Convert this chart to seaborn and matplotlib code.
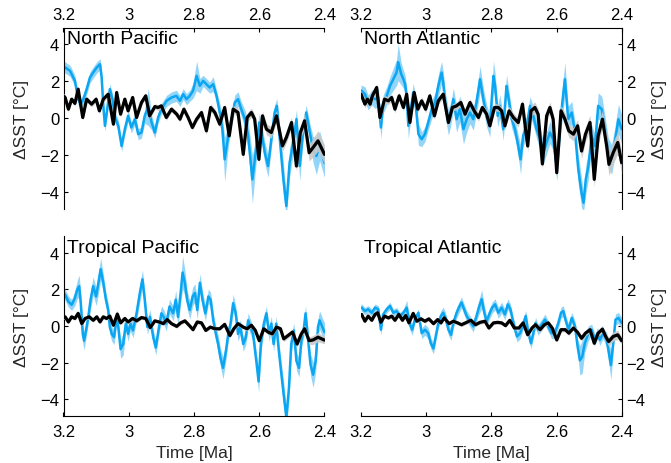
import matplotlib
matplotlib.use("Agg")
import matplotlib.pyplot as plt
import seaborn as sns
import pandas as pd
import numpy as np

# ---------------------------------------------------------------------------
# Data: (age [Ma], SST anomaly [degC], half-width of uncertainty band)
# blue = proxy reconstruction, black = model estimate
# ---------------------------------------------------------------------------
np_blue = [
    (3.200, 2.80, 0.3), (3.195, 2.74, 0.3), (3.180, 2.56, 0.3), (3.165, 2.02, 0.3),
    (3.155, 1.03, 0.3), (3.147, 0.76, 0.3), (3.139, 1.03, 0.3), (3.129, 1.57, 0.3),
    (3.119, 2.20, 0.3), (3.109, 2.47, 0.3), (3.098, 2.74, 0.3), (3.088, 2.92, 0.3),
    (3.083, 2.20, 0.3), (3.078, 0.67, 0.3), (3.073, -0.41, 0.3), (3.066, 0.49, 0.3),
    (3.058, 1.57, 0.3), (3.050, 1.03, 0.3), (3.042, 0.04, 0.3), (3.032, -0.41, 0.3),
    (3.022, -1.50, 0.3), (3.012, -0.59, 0.3), (3.002, 0.13, 0.3), (2.992, -0.50, 0.3),
    (2.981, -0.05, 0.3), (2.971, -0.86, 0.3), (2.961, -0.77, 0.3), (2.951, 0.13, 0.4),
    (2.940, 0.60, 1.0), (2.930, -0.23, 0.4), (2.920, -0.77, 0.3), (2.910, 0.04, 0.3),
    (2.900, 0.49, 0.3), (2.884, 0.94, 0.3), (2.869, 1.12, 0.3), (2.854, 1.21, 0.3),
    (2.843, 0.94, 0.3), (2.833, 1.30, 0.3), (2.823, 1.03, 0.3), (2.813, 1.21, 0.3),
    (2.803, 1.48, 0.4), (2.792, 2.29, 0.8), (2.782, 1.75, 0.4), (2.772, 2.02, 0.3),
    (2.762, 1.84, 0.3), (2.752, 1.66, 0.3), (2.741, 1.84, 0.4), (2.731, 1.21, 0.3),
    (2.721, 0.31, 0.5), (2.713, -0.59, 0.7), (2.706, -2.22, 1.2), (2.695, -0.95, 0.6),
    (2.685, -0.05, 0.4), (2.675, 0.85, 0.4), (2.665, 1.03, 0.4), (2.655, 0.49, 0.4),
    (2.644, -0.05, 0.5), (2.634, -0.95, 0.8), (2.621, -3.30, 1.3), (2.611, -1.86, 0.8),
    (2.600, -0.23, 0.5), (2.593, -0.77, 0.5), (2.583, -1.86, 0.6), (2.573, -2.58, 0.6),
    (2.563, -1.13, 0.5), (2.553, 0.31, 0.4), (2.546, 0.67, 0.4), (2.537, -1.13, 0.6),
    (2.527, -3.12, 0.9), (2.517, -4.74, 0.6), (2.507, -2.40, 0.8), (2.496, -1.31, 0.6),
    (2.486, -0.05, 0.5), (2.476, -2.58, 0.8), (2.466, -0.77, 0.5), (2.456, 0.31, 0.4),
    (2.445, -0.77, 0.5), (2.435, -1.68, 0.7), (2.425, -2.04, 1.0), (2.415, -1.50, 0.8),
    (2.400, -2.40, 0.8),
]
np_black = [
    (3.200, 1.20, 0.15), (3.195, 1.12, 0.15), (3.185, 0.49, 0.15), (3.175, 1.03, 0.15),
    (3.165, 0.80, 0.15), (3.155, 1.57, 0.15), (3.141, 0.04, 0.15), (3.129, 1.03, 0.15),
    (3.114, 0.76, 0.15), (3.100, 1.03, 0.15), (3.090, 0.40, 0.15), (3.078, 1.03, 0.15),
    (3.063, 1.30, 0.15), (3.047, -0.32, 0.15), (3.037, 1.39, 0.15), (3.025, 0.22, 0.15),
    (3.012, 1.03, 0.15), (3.002, 0.40, 0.15), (2.988, 1.12, 0.15), (2.976, 0.04, 0.15),
    (2.961, 0.85, 0.15), (2.948, 1.21, 0.15), (2.936, 0.13, 0.15), (2.920, 0.63, 0.15),
    (2.910, 0.58, 0.15), (2.900, 0.67, 0.15), (2.885, 0.04, 0.15), (2.869, 0.49, 0.15),
    (2.853, 0.22, 0.15), (2.843, -0.05, 0.15), (2.831, 0.49, 0.15), (2.818, 0.04, 0.15),
    (2.805, -0.50, 0.15), (2.792, -0.05, 0.15), (2.777, 0.31, 0.15), (2.762, -0.68, 0.2),
    (2.749, 0.58, 0.2), (2.736, 0.31, 0.2), (2.721, -0.32, 0.2), (2.706, 0.58, 0.2),
    (2.692, -0.95, 0.2), (2.680, 0.49, 0.2), (2.665, 0.31, 0.25), (2.649, -1.95, 0.25),
    (2.637, 0.04, 0.25), (2.624, 0.31, 0.25), (2.614, -0.05, 0.25), (2.601, -2.22, 0.25),
    (2.590, 0.13, 0.25), (2.578, -0.59, 0.3), (2.563, -0.77, 0.3), (2.547, 0.13, 0.3),
    (2.529, -1.49, 0.3), (2.517, -1.04, 0.3), (2.501, -0.23, 0.3), (2.486, -2.58, 0.3),
    (2.474, -0.77, 0.35), (2.461, -0.14, 0.4), (2.447, -1.86, 0.45), (2.435, -1.58, 0.5),
    (2.420, -1.22, 0.55), (2.400, -1.95, 0.5),
]

na_blue = [
    (3.200, 1.50, 0.3), (3.198, 1.48, 0.3), (3.188, 1.30, 0.4), (3.178, 0.85, 0.4),
    (3.167, 1.12, 0.4), (3.157, 1.03, 0.5), (3.147, 1.12, 0.5), (3.139, -0.50, 0.6),
    (3.132, 0.76, 0.5), (3.121, 1.21, 0.5), (3.111, 1.75, 0.5), (3.101, 2.11, 0.6),
    (3.091, 2.47, 0.7), (3.086, 3.03, 1.0), (3.077, 2.40, 0.6), (3.070, 2.11, 0.5),
    (3.065, 1.84, 0.5), (3.060, 1.21, 0.5), (3.055, -0.41, 0.7), (3.047, 0.49, 0.5),
    (3.040, 1.39, 0.5), (3.032, 0.67, 0.5), (3.024, -0.86, 0.6), (3.014, -1.13, 0.4),
    (3.004, -0.86, 0.4), (2.994, -0.23, 0.4), (2.983, 0.49, 0.5), (2.973, 0.85, 0.5),
    (2.963, 1.75, 0.6), (2.953, 2.47, 0.6), (2.948, 1.93, 0.6), (2.941, 0.67, 0.7),
    (2.932, -0.23, 0.7), (2.924, 0.31, 0.6), (2.917, 1.03, 0.6), (2.907, -0.05, 0.7),
    (2.897, 0.49, 0.7), (2.886, -0.59, 0.8), (2.876, -0.05, 0.7), (2.866, 0.31, 0.6),
    (2.856, -0.05, 0.6), (2.846, 0.85, 0.6), (2.835, 2.11, 0.7), (2.825, 1.03, 0.6),
    (2.815, 0.13, 0.6), (2.805, -0.41, 0.6), (2.800, 0.85, 0.6), (2.794, 2.29, 0.8),
    (2.789, 1.75, 0.7), (2.781, 0.13, 0.6), (2.774, 0.67, 0.6), (2.764, -0.59, 0.6),
    (2.754, 1.75, 0.6), (2.749, 1.21, 0.6), (2.738, -0.05, 0.5), (2.728, -0.59, 0.5),
    (2.718, -1.50, 0.6), (2.711, -2.22, 0.8), (2.703, -0.95, 0.6), (2.692, -0.41, 0.5),
    (2.682, 0.67, 0.5), (2.672, 0.13, 0.5), (2.662, -0.59, 0.5), (2.651, -1.13, 0.6),
    (2.641, -1.86, 0.6), (2.631, -1.31, 0.6), (2.621, -0.77, 0.6), (2.611, -1.13, 0.6),
    (2.600, -2.58, 0.8), (2.590, -0.59, 0.7), (2.583, 0.85, 0.8), (2.575, 2.11, 0.9),
    (2.565, -0.05, 0.7), (2.554, 0.31, 0.6), (2.544, -0.77, 0.6), (2.534, -2.76, 0.8),
    (2.524, -4.02, 0.8), (2.518, -4.56, 0.5), (2.511, -3.30, 0.8), (2.503, -2.58, 0.7),
    (2.493, -0.95, 0.6), (2.483, -1.50, 0.6), (2.473, 0.67, 0.7), (2.462, 0.49, 0.7),
    (2.452, -0.59, 0.7), (2.442, -1.86, 0.8), (2.432, -2.22, 0.8), (2.422, -1.31, 0.8),
    (2.411, -0.05, 0.8), (2.401, -0.59, 0.8),
]
na_black = [
    (3.200, 1.30, 0.2), (3.188, 0.76, 0.2), (3.180, 1.03, 0.2), (3.172, 0.76, 0.2),
    (3.165, 1.21, 0.2), (3.152, 1.66, 0.2), (3.142, 0.04, 0.2), (3.128, 1.03, 0.2),
    (3.116, 0.94, 0.2), (3.106, 1.12, 0.2), (3.096, 0.49, 0.2), (3.083, 1.21, 0.2),
    (3.070, 0.58, 0.2), (3.060, 1.30, 0.2), (3.050, -0.23, 0.2), (3.037, 1.39, 0.2),
    (3.026, 0.49, 0.2), (3.014, 0.94, 0.2), (3.002, 0.49, 0.2), (2.989, 1.21, 0.2),
    (2.975, 0.13, 0.2), (2.963, 0.94, 0.2), (2.948, 1.30, 0.2), (2.932, -0.23, 0.2),
    (2.920, 0.58, 0.2), (2.907, 0.67, 0.2), (2.894, 0.85, 0.2), (2.881, 0.22, 0.2),
    (2.866, 0.85, 0.2), (2.853, 0.40, 0.2), (2.840, 0.04, 0.2), (2.828, 0.58, 0.2),
    (2.815, 0.22, 0.2), (2.805, -0.41, 0.2), (2.791, 0.58, 0.2), (2.779, 0.58, 0.2),
    (2.769, 0.40, 0.2), (2.759, -0.41, 0.2), (2.746, 0.40, 0.25), (2.733, 0.04, 0.25),
    (2.718, -0.23, 0.25), (2.705, 0.76, 0.25), (2.689, -1.50, 0.3), (2.679, 0.40, 0.3),
    (2.667, 0.58, 0.3), (2.657, 0.22, 0.3), (2.644, -2.47, 0.3), (2.631, 0.13, 0.3),
    (2.621, 0.58, 0.3), (2.611, -0.05, 0.3), (2.600, -2.94, 0.3), (2.587, 0.40, 0.3),
    (2.575, -0.05, 0.35), (2.563, -0.68, 0.35), (2.549, -0.86, 0.35), (2.536, -0.41, 0.35),
    (2.524, -1.77, 0.4), (2.512, -0.86, 0.4), (2.498, -0.23, 0.4), (2.485, -3.30, 0.4),
    (2.473, -0.95, 0.45), (2.460, -0.05, 0.5), (2.447, -1.50, 0.6), (2.440, -2.49, 0.6),
    (2.427, -1.86, 0.6), (2.413, -1.31, 0.6), (2.401, -2.40, 0.6),
]

tp_blue = [
    (3.200, 1.80, 0.3), (3.195, 1.70, 0.3), (3.185, 1.33, 0.3), (3.175, 1.15, 0.3),
    (3.165, 1.52, 0.4), (3.158, 1.98, 0.5), (3.152, 2.17, 0.6), (3.147, 1.24, 0.5),
    (3.141, -0.43, 0.5), (3.137, -0.80, 0.5), (3.131, -0.24, 0.4), (3.124, 0.50, 0.4),
    (3.117, 1.43, 0.5), (3.109, 2.17, 0.5), (3.100, 1.61, 0.5), (3.093, 2.35, 0.6),
    (3.086, 3.09, 0.6), (3.078, 2.35, 0.5), (3.070, 1.43, 0.4), (3.063, 0.87, 0.4),
    (3.058, -0.06, 0.4), (3.052, -0.43, 0.4), (3.045, -0.61, 0.4), (3.037, 0.50, 0.4),
    (3.032, -0.06, 0.4), (3.025, -1.26, 0.5), (3.017, -0.98, 0.6), (3.009, 0.13, 0.4),
    (3.002, -0.43, 0.4), (2.995, 0.13, 0.4), (2.987, -0.24, 0.4), (2.976, 0.69, 0.4),
    (2.966, 1.80, 0.5), (2.958, 2.54, 0.5), (2.951, 1.43, 0.5), (2.943, -0.06, 0.4),
    (2.935, 0.50, 0.4), (2.925, -0.61, 0.4), (2.917, -1.17, 0.4), (2.909, -0.24, 0.4),
    (2.900, 0.69, 0.4), (2.893, 0.50, 0.4), (2.885, 0.13, 0.4), (2.875, 1.06, 0.4),
    (2.864, 0.69, 0.4), (2.856, 1.43, 0.5), (2.849, 0.50, 0.5), (2.841, 1.80, 0.6),
    (2.835, 2.91, 0.9), (2.828, 2.35, 0.7), (2.821, 1.43, 0.5), (2.813, 0.87, 0.5),
    (2.804, 1.61, 0.5), (2.797, 1.80, 0.5), (2.790, 0.87, 0.5), (2.782, 2.35, 0.5),
    (2.774, 1.43, 0.5), (2.765, 0.69, 0.4), (2.756, 1.61, 0.4), (2.749, 1.43, 0.4),
    (2.741, 0.31, 0.4), (2.733, -0.43, 0.4), (2.726, -0.98, 0.5), (2.719, -1.72, 0.5),
    (2.711, -2.28, 0.6), (2.702, -1.35, 0.5), (2.695, -0.43, 0.4), (2.688, 0.13, 0.4),
    (2.680, 1.24, 0.5), (2.672, 0.69, 0.4), (2.665, -0.43, 0.4), (2.658, -0.06, 0.4),
    (2.649, -0.98, 0.4), (2.641, -0.61, 0.4), (2.634, 0.31, 0.4), (2.627, -0.06, 0.4),
    (2.619, -0.43, 0.4), (2.609, -1.91, 0.5), (2.602, -3.02, 0.6), (2.595, -0.98, 0.5),
    (2.586, 0.13, 0.4), (2.578, 0.69, 0.4), (2.570, -0.43, 0.4), (2.563, 0.13, 0.4),
    (2.556, -0.98, 0.4), (2.548, 0.13, 0.4), (2.540, -1.35, 0.5), (2.532, -2.65, 0.6),
    (2.525, -3.76, 0.7), (2.517, -4.96, 0.6), (2.509, -3.39, 0.7), (2.502, -0.98, 0.5),
    (2.494, -0.24, 0.4), (2.486, -1.91, 0.5), (2.478, -2.28, 0.5), (2.471, -0.80, 0.4),
    (2.464, -0.24, 0.4), (2.458, 0.69, 0.4), (2.451, -0.61, 0.5), (2.443, -2.09, 0.6),
    (2.435, -2.65, 0.7), (2.427, -1.91, 0.6), (2.420, -0.06, 0.5), (2.415, 0.31, 0.5),
    (2.400, -0.33, 0.5),
]
tp_black = [
    (3.200, 0.45, 0.1), (3.195, 0.50, 0.1), (3.185, 0.22, 0.1), (3.175, 0.50, 0.1),
    (3.165, 0.41, 0.1), (3.155, 0.69, 0.1), (3.144, 0.13, 0.1), (3.134, 0.41, 0.1),
    (3.121, 0.50, 0.1), (3.109, 0.31, 0.1), (3.098, 0.50, 0.1), (3.088, 0.22, 0.1),
    (3.078, 0.50, 0.1), (3.068, 0.41, 0.1), (3.058, 0.54, 0.1), (3.047, 0.04, 0.1),
    (3.035, 0.65, 0.1), (3.025, 0.17, 0.1), (3.012, 0.41, 0.1), (3.002, 0.22, 0.1),
    (2.988, 0.41, 0.1), (2.976, 0.28, 0.1), (2.961, 0.46, 0.1), (2.948, 0.41, 0.1),
    (2.934, -0.09, 0.1), (2.920, 0.28, 0.1), (2.907, 0.22, 0.1), (2.894, 0.13, 0.1),
    (2.882, 0.35, 0.1), (2.869, 0.13, 0.1), (2.853, -0.02, 0.1), (2.841, 0.17, 0.1),
    (2.828, 0.28, 0.1), (2.815, 0.04, 0.1), (2.803, -0.20, 0.1), (2.790, 0.22, 0.1),
    (2.777, 0.17, 0.1), (2.764, -0.24, 0.1), (2.750, -0.06, 0.1), (2.736, -0.15, 0.1),
    (2.721, -0.15, 0.1), (2.706, 0.09, 0.1), (2.690, -0.52, 0.12), (2.678, -0.15, 0.12),
    (2.665, 0.13, 0.12), (2.649, -0.06, 0.12), (2.637, -0.15, 0.12), (2.624, 0.04, 0.12),
    (2.612, -0.24, 0.12), (2.600, -0.80, 0.12), (2.586, -0.15, 0.12), (2.573, -0.33, 0.12),
    (2.560, -0.43, 0.12), (2.547, -0.06, 0.12), (2.535, -0.15, 0.12), (2.525, -0.70, 0.15),
    (2.512, -0.52, 0.15), (2.498, -0.33, 0.15), (2.484, -0.98, 0.15), (2.471, -0.43, 0.15),
    (2.461, -0.15, 0.2), (2.447, -0.80, 0.2), (2.435, -0.76, 0.25), (2.420, -0.61, 0.25),
    (2.400, -0.77, 0.2),
]

ta_blue = [
    (3.200, 1.00, 0.2), (3.198, 1.00, 0.2), (3.188, 0.81, 0.2), (3.178, 0.91, 0.2),
    (3.167, 0.72, 0.2), (3.157, 1.00, 0.2), (3.147, 0.91, 0.2), (3.139, -0.20, 0.3),
    (3.132, 0.63, 0.2), (3.121, 0.91, 0.2), (3.111, 1.09, 0.2), (3.101, 0.72, 0.2),
    (3.091, 0.81, 0.2), (3.080, 0.54, 0.2), (3.070, 0.72, 0.2), (3.060, 1.00, 0.4),
    (3.050, 0.07, 0.3), (3.043, -0.20, 0.3), (3.035, 0.35, 0.2), (3.024, 0.72, 0.2),
    (3.014, -0.39, 0.3), (3.004, -0.20, 0.3), (2.994, -0.39, 0.3), (2.986, -0.94, 0.3),
    (2.978, -1.22, 0.3), (2.971, -0.57, 0.3), (2.963, 0.17, 0.3), (2.955, 0.54, 0.3),
    (2.948, 0.72, 0.3), (2.941, 0.44, 0.3), (2.932, -0.20, 0.3), (2.924, -0.48, 0.3),
    (2.917, 0.17, 0.3), (2.907, 0.72, 0.3), (2.900, 1.00, 0.3), (2.892, 1.28, 0.3),
    (2.884, 0.91, 0.3), (2.876, 0.54, 0.3), (2.866, 0.26, 0.3), (2.856, -0.02, 0.3),
    (2.846, 0.54, 0.3), (2.839, 1.00, 0.4), (2.830, 1.46, 0.5), (2.822, 0.72, 0.4),
    (2.815, 0.26, 0.3), (2.805, 0.72, 0.3), (2.798, 1.00, 0.3), (2.789, 1.18, 0.3),
    (2.779, 0.72, 0.3), (2.769, 1.00, 0.3), (2.759, 0.63, 0.3), (2.750, 1.18, 0.3),
    (2.742, 0.91, 0.3), (2.733, 0.17, 0.3), (2.722, -0.57, 0.3), (2.712, -0.39, 0.3),
    (2.702, 0.17, 0.3), (2.695, 0.54, 0.3), (2.687, -0.39, 0.3), (2.679, -0.94, 0.3),
    (2.672, -0.39, 0.3), (2.665, 0.17, 0.3), (2.657, -0.20, 0.3), (2.646, 0.07, 0.3),
    (2.636, 0.35, 0.3), (2.626, -0.02, 0.3), (2.616, -0.39, 0.3), (2.606, -0.39, 0.3),
    (2.595, 0.17, 0.3), (2.587, 0.72, 0.3), (2.580, 0.81, 0.3), (2.572, 0.26, 0.3),
    (2.564, -0.20, 0.3), (2.554, 0.44, 0.3), (2.544, -0.02, 0.3), (2.536, -1.13, 0.4),
    (2.529, -1.87, 0.8), (2.522, -1.68, 0.9), (2.514, -0.94, 0.5), (2.503, -0.39, 0.4),
    (2.493, -0.20, 0.3), (2.483, -0.76, 0.3), (2.475, -0.39, 0.3), (2.468, -0.76, 0.3),
    (2.458, -0.39, 0.3), (2.447, -0.76, 0.4), (2.440, -1.50, 0.6), (2.434, -2.13, 0.8),
    (2.427, -0.94, 0.5), (2.420, 0.35, 0.3), (2.411, 0.44, 0.3), (2.401, 0.17, 0.3),
]
ta_black = [
    (3.200, 0.60, 0.1), (3.198, 0.63, 0.1), (3.188, 0.26, 0.1), (3.178, 0.54, 0.1),
    (3.167, 0.31, 0.1), (3.157, 0.63, 0.1), (3.149, 0.72, 0.1), (3.139, 0.20, 0.1),
    (3.128, 0.54, 0.1), (3.116, 0.44, 0.1), (3.106, 0.54, 0.1), (3.096, 0.31, 0.1),
    (3.084, 0.63, 0.1), (3.073, 0.31, 0.1), (3.063, 0.57, 0.1), (3.053, 0.17, 0.1),
    (3.040, 0.69, 0.1), (3.029, 0.26, 0.1), (3.016, 0.39, 0.1), (3.004, 0.26, 0.1),
    (2.992, 0.39, 0.1), (2.978, 0.13, 0.1), (2.965, 0.35, 0.1), (2.955, 0.17, 0.1),
    (2.945, 0.44, 0.1), (2.930, 0.13, 0.1), (2.917, 0.26, 0.1), (2.904, 0.17, 0.1),
    (2.892, 0.07, 0.1), (2.876, 0.20, 0.1), (2.863, 0.31, 0.1), (2.849, 0.07, 0.1),
    (2.835, 0.20, 0.1), (2.820, 0.26, 0.1), (2.808, -0.11, 0.1), (2.794, 0.17, 0.1),
    (2.781, 0.20, 0.1), (2.769, 0.17, 0.1), (2.757, 0.02, 0.1), (2.744, 0.31, 0.1),
    (2.730, -0.11, 0.1), (2.716, -0.11, 0.1), (2.703, 0.17, 0.1), (2.689, -0.48, 0.12),
    (2.676, -0.11, 0.12), (2.665, 0.07, 0.12), (2.651, -0.20, 0.12), (2.638, 0.07, 0.12),
    (2.626, 0.17, 0.12), (2.614, -0.11, 0.12), (2.600, -0.76, 0.12), (2.587, -0.20, 0.12),
    (2.574, -0.20, 0.12), (2.563, -0.39, 0.12), (2.549, -0.11, 0.12), (2.536, -0.35, 0.15),
    (2.524, -0.67, 0.15), (2.512, -0.39, 0.15), (2.498, -0.20, 0.15), (2.485, -0.94, 0.15),
    (2.473, -0.39, 0.15), (2.460, -0.17, 0.2), (2.450, -0.57, 0.2), (2.441, -0.85, 0.25),
    (2.427, -0.57, 0.25), (2.413, -0.48, 0.25), (2.401, -0.80, 0.2),
]

regions = ["North Pacific", "North Atlantic", "Tropical Pacific", "Tropical Atlantic"]
blue_series = [np_blue, na_blue, tp_blue, ta_blue]
black_series = [np_black, na_black, tp_black, ta_black]
x_ticks = [3.2, 3.0, 2.8, 2.6, 2.4]
y_ticks = [-4, -2, 0, 2, 4]

BLUE = "#0AA6F2"
BLUE_BAND = "#92D5F8"
GRAY_BAND = "#C9C9C9"

sns.set_style("white")
plt.rcParams["font.family"] = ["Liberation Sans", "DejaVu Sans"]
plt.rcParams["axes.unicode_minus"] = True

fig = plt.figure(figsize=(6.71, 4.64), dpi=100)

W, H = 671.0, 464.0
# axes rectangles in pixel units: (left, top, right, bottom)
rects = [
    (63.5, 28.5, 324.5, 210.0),
    (361.0, 28.5, 622.0, 210.0),
    (63.5, 237.0, 324.5, 417.0),
    (361.0, 237.0, 622.0, 417.0),
]

TICK_FS = 12
LABEL_FS = 12.5
TITLE_FS = 14


def to_frame(rows):
    return pd.DataFrame(rows, columns=["age", "sst", "err"])


for i, (name, blue, black, r) in enumerate(zip(regions, blue_series, black_series, rects)):
    l, t, rr, b = r
    ax = fig.add_axes([l / W, 1 - b / H, (rr - l) / W, (b - t) / H])
    db = to_frame(blue)
    dk = to_frame(black)

    ax.fill_between(db["age"], db["sst"] - db["err"], db["sst"] + db["err"],
                    color=BLUE_BAND, lw=0, zorder=1)
    sns.lineplot(data=db, x="age", y="sst", ax=ax, color=BLUE, lw=1.8,
                 estimator=None, sort=False, zorder=2,
                 solid_joinstyle="round")
    ax.fill_between(dk["age"], dk["sst"] - dk["err"], dk["sst"] + dk["err"],
                    color=GRAY_BAND, lw=0, alpha=0.9, zorder=3)
    sns.lineplot(data=dk, x="age", y="sst", ax=ax, color="black", lw=2.3,
                 estimator=None, sort=False, zorder=4,
                 solid_joinstyle="round")

    ax.set_xlim(3.2, 2.4)
    ax.set_ylim(-4.9, 4.9)
    ax.set_xticks(x_ticks)
    ax.set_xticklabels([f"{v:g}" for v in x_ticks])
    ax.set_yticks(y_ticks)
    ax.set_yticklabels([f"{v:g}".replace("-", "\u2212") for v in y_ticks])

    top_row = i < 2
    left_col = i % 2 == 0

    for side in ["top", "bottom", "left", "right"]:
        ax.spines[side].set_visible(False)
    xs = "top" if top_row else "bottom"
    ys = "left" if left_col else "right"
    ax.spines[xs].set_visible(True)
    ax.spines[ys].set_visible(True)
    for s in (xs, ys):
        ax.spines[s].set_color("black")
        ax.spines[s].set_linewidth(0.8)

    ax.tick_params(axis="both", direction="in", length=3, width=0.8,
                   labelsize=TICK_FS, colors="black", pad=3)
    ax.tick_params(axis="x", pad=4 if top_row else 6,
                   top=top_row, labeltop=top_row,
                   bottom=not top_row, labelbottom=not top_row)
    ax.tick_params(axis="y", left=left_col, labelleft=left_col,
                   right=not left_col, labelright=not left_col)

    if top_row:
        ax.set_xlabel("")
    else:
        ax.set_xlabel("Time [Ma]", fontsize=LABEL_FS, labelpad=4)
    ax.yaxis.set_label_position("left" if left_col else "right")
    ax.set_ylabel("\u0394SST [\u00b0C]", fontsize=LABEL_FS,
                  labelpad=8 if left_col else 5)

    ax.text(0.012, 0.985, name, transform=ax.transAxes, ha="left", va="top",
            fontsize=TITLE_FS, color="black", zorder=6)
    ax.grid(False)

fig.savefig("out.png", dpi=100)
